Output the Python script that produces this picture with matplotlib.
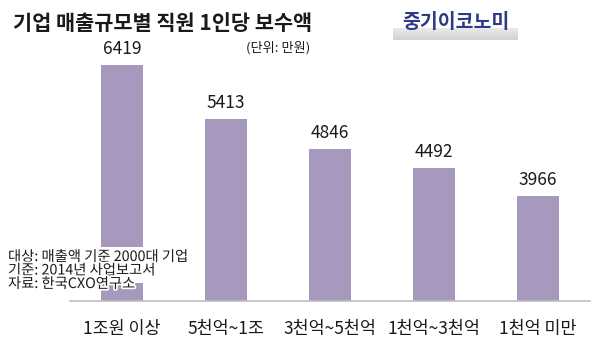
import matplotlib
matplotlib.use("Agg")
import matplotlib.pyplot as plt
import matplotlib.patheffects as pe
from matplotlib.patches import Rectangle
import numpy as np

plt.rcParams['font.family'] = ['Noto Sans CJK KR', 'DejaVu Sans']

categories = ["1조원 이상", "5천억~1조", "3천억~5천억", "1천억~3천억", "1천억 미만"]
pay = [6419, 5413, 4846, 4492, 3966]

title = "기업 매출규모별 직원 1인당 보수액"
unit_note = "(단위: 만원)"
brand = "중기이코노미"
notes = ["대상: 매출액 기준 2000대 기업", "기준: 2014년 사업보고서", "자료: 한국CXO연구소"]

W, H = 600, 350
fig = plt.figure(figsize=(W / 100, H / 100), dpi=100)
fig.patch.set_facecolor("white")

def fx(px):
    return px / W

def fy(py):
    return 1 - py / H

bar_color = "#a799be"
ax = fig.add_axes([fx(70), fy(300.5), fx(520), (300.5 - 40) / H])
x = np.arange(len(categories))
ax.bar(x, pay, width=0.41, color=bar_color, zorder=2)
ax.set_xlim(-0.5, len(categories) - 0.5)
ax.set_ylim(2000, 6897)
for s in ["top", "right", "left"]:
    ax.spines[s].set_visible(False)
ax.spines["bottom"].set_color("#bfbfbf")
ax.spines["bottom"].set_linewidth(1.2)
ax.set_yticks([])
ax.set_xticks(x)
ax.set_xticklabels(categories, fontsize=12.5, color="#1a1a1a")
ax.tick_params(axis="x", length=0, pad=14)

for xi, v in zip(x, pay):
    ax.annotate(f"{v}", (xi, v), xytext=(0, 5), textcoords="offset points",
                ha="center", va="bottom", fontsize=12.5, color="#1a1a1a")

# title and unit
fig.text(fx(13), fy(24), title, ha="left", va="center", fontsize=15,
         fontweight="bold", color="#1a1a1a")
fig.text(fx(278), fy(48), unit_note, ha="center", va="center", fontsize=9.5,
         color="#1a1a1a")

# brand mark with grey bevel strip
gax = fig.add_axes([fx(393), fy(40), fx(125), 12 / H])
grad = np.linspace(0.92, 0.82, 50).reshape(-1, 1)
gax.imshow(grad, aspect="auto", cmap="gray", vmin=0, vmax=1,
           extent=[0, 1, 0, 1])
gax.axis("off")
fig.text(fx(456), fy(22), brand, ha="center", va="center", fontsize=14,
         fontweight="bold", color="#2e3a87", zorder=5)

# source notes
fig.patches.append(Rectangle((0, fy(283)), fx(192), (283 - 247) / H,
                             transform=fig.transFigure, facecolor="white",
                             edgecolor="none", zorder=3))
for i, line in enumerate(notes):
    fig.text(fx(8), fy(257 + 13.5 * i), line, ha="left", va="center",
             fontsize=10.3, color="#1a1a1a", zorder=4,
             path_effects=[pe.withStroke(linewidth=2.5, foreground="white")])

fig.savefig("out.png", dpi=100, facecolor="white")
